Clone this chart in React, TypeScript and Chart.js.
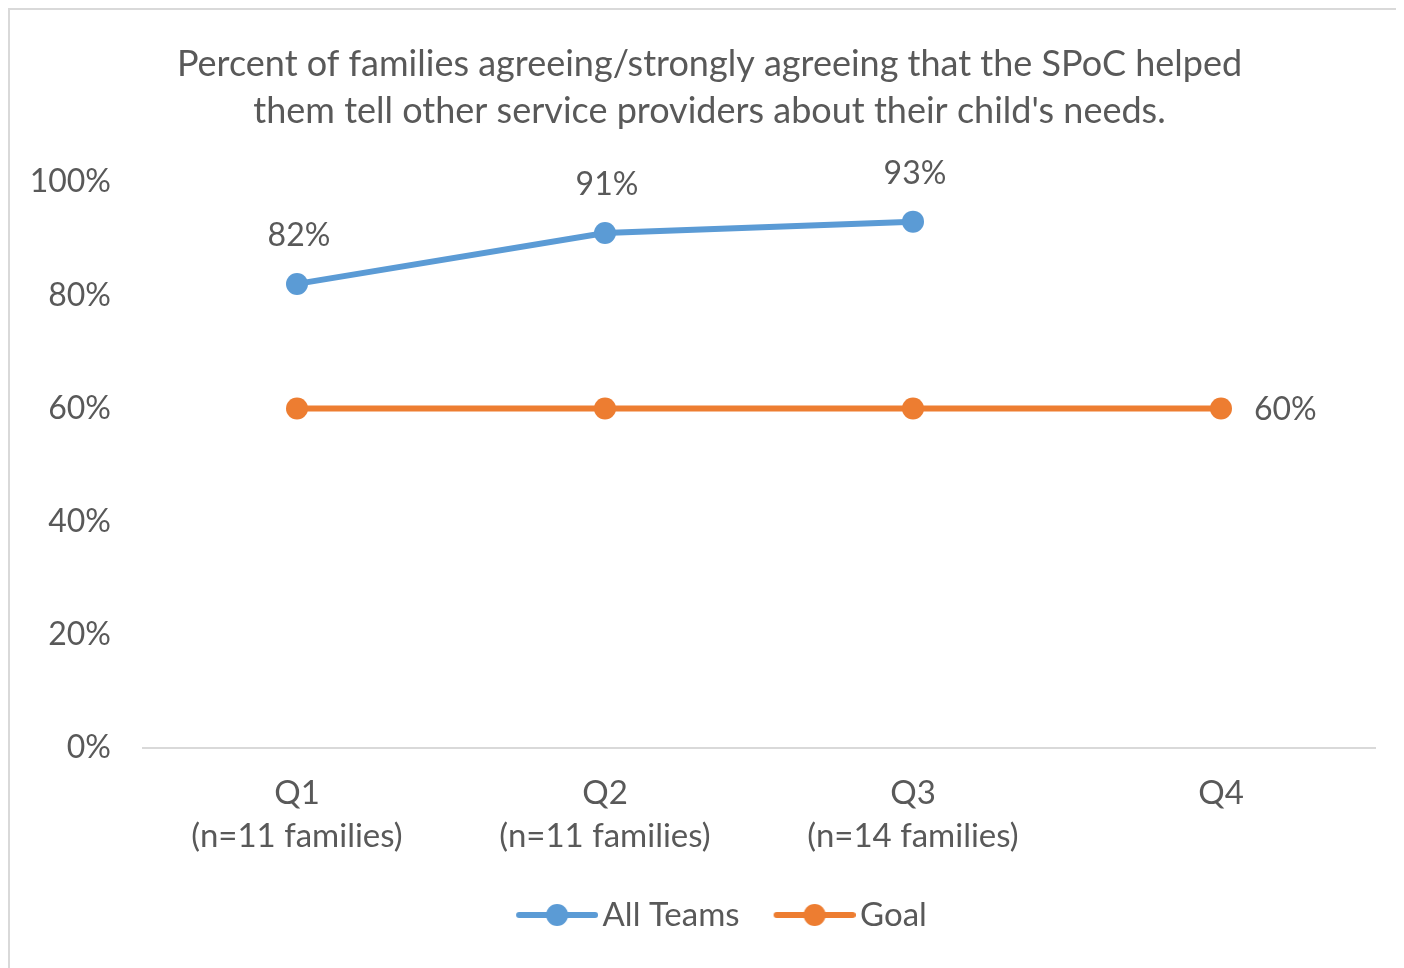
import React, { useEffect, useRef } from "react";
import { Chart, registerables } from "chart.js";

Chart.register(...registerables);

// ---- data ----
const categories: string[][] = [
  ["Q1", "(n=11 families)"],
  ["Q2", "(n=11 families)"],
  ["Q3", "(n=14 families)"],
  ["Q4"],
];
const allTeams: (number | null)[] = [0.82, 0.91, 0.93, null];
const goal: number[] = [0.6, 0.6, 0.6, 0.6];
const yTicks: number[] = [0, 0.2, 0.4, 0.6, 0.8, 1.0];
const seriesNames: string[] = ["All Teams", "Goal"];
const titleLines: string[] = [
  "Percent of families agreeing/strongly agreeing that the SPoC helped",
  "them tell other service providers about their child's needs.",
];

// ---- style ----
const FONT = "Lato";
const TEXT = "#595959";
const BLUE = "#5b9bd5";
const ORANGE = "#ed7d31";
const AXIS = "#d9d9d9";
const FS = 33;

const pct = (v: number) => `${Math.round(v * 100)}%`;

// legend marker: line with a dot, with transparent margin on the left
function legendIcon(color: string): HTMLCanvasElement {
  const c = document.createElement("canvas");
  c.width = 118;
  c.height = 24;
  const ctx = c.getContext("2d")!;
  const a = 36;
  ctx.strokeStyle = color;
  ctx.lineWidth = 6;
  ctx.lineCap = "round";
  ctx.beginPath();
  ctx.moveTo(a + 3, 12);
  ctx.lineTo(a + 79, 12);
  ctx.stroke();
  ctx.fillStyle = color;
  ctx.beginPath();
  ctx.arc(a + 41, 12, 11, 0, Math.PI * 2);
  ctx.fill();
  return c;
}

const labelPlugin = {
  id: "valueLabels",
  afterLayout(chart: any) {
    // let y tick labels extend left of the axis box without clipping
    if (chart.scales.y) chart.scales.y.left = 0;
  },
  afterDatasetsDraw(chart: any) {
    const ctx = chart.ctx;
    ctx.save();
    ctx.font = `32px ${FONT}`;
    ctx.fillStyle = TEXT;
    ctx.textBaseline = "middle";
    const m0 = chart.getDatasetMeta(0);
    m0.data.forEach((pt: any, i: number) => {
      const v = allTeams[i];
      if (v == null) return;
      ctx.textAlign = "center";
      ctx.fillText(pct(v), pt.x + 2, pt.y - 48);
    });
    const m1 = chart.getDatasetMeta(1);
    const li = goal.length - 1;
    const last = m1.data[li];
    ctx.textAlign = "left";
    ctx.fillText(pct(goal[li]), last.x + 33, last.y + 1);
    ctx.restore();
  },
};

export default function App() {
  const ref = useRef<HTMLCanvasElement>(null);

  useEffect(() => {
    if (!ref.current) return;
    const icons = [legendIcon(BLUE), legendIcon(ORANGE)];
    const chart = new Chart(ref.current, {
      type: "line",
      data: {
        labels: categories,
        datasets: [
          {
            label: seriesNames[0],
            data: allTeams,
            borderColor: BLUE,
            backgroundColor: BLUE,
            borderWidth: 6,
            pointRadius: 11,
            pointHoverRadius: 11,
            pointBackgroundColor: BLUE,
            pointBorderWidth: 0,
            tension: 0,
          },
          {
            label: seriesNames[1],
            data: goal,
            borderColor: ORANGE,
            backgroundColor: ORANGE,
            borderWidth: 6,
            pointRadius: 11,
            pointHoverRadius: 11,
            pointBackgroundColor: ORANGE,
            pointBorderWidth: 0,
            tension: 0,
          },
        ],
      },
      options: {
        animation: false,
        responsive: true,
        maintainAspectRatio: false,
        layout: { padding: { left: 34, right: 29, top: 0, bottom: 26.5 } },
        plugins: {
          tooltip: { enabled: false },
          title: {
            display: true,
            text: titleLines,
            color: TEXT,
            font: { family: FONT, size: 36, weight: "normal", lineHeight: 1.306 },
            padding: { top: 30.5, bottom: 47.5 },
          },
          legend: {
            position: "bottom",
            labels: {
              usePointStyle: true,
              pointStyleWidth: 94,
              padding: 10,
              color: TEXT,
              font: { family: FONT, size: FS },
              generateLabels: (ch: any) => {
                const items = Chart.defaults.plugins.legend.labels.generateLabels(ch);
                return items.map((it: any, i: number) => ({ ...it, pointStyle: icons[i] }));
              },
            },
          },
        },
        scales: {
          x: {
            offset: true,
            grid: { display: false, drawTicks: false },
            border: { display: true, color: AXIS, width: 2 },
            ticks: {
              color: TEXT,
              font: { family: FONT, size: FS, lineHeight: 1.303 },
              padding: 23.5,
              maxRotation: 0,
              autoSkip: false,
            },
            afterFit: (s: any) => {
              s.height = 140.5;
            },
          },
          y: {
            min: 0,
            max: 1,
            grid: { display: false, drawTicks: false },
            border: { display: false },
            ticks: {
              color: TEXT,
              font: { family: FONT, size: 32 },
              padding: 32,
              callback: (v: any) => pct(Number(v)),
            },
            afterBuildTicks: (s: any) => {
              s.ticks = yTicks.map((v) => ({ value: v }));
            },
            afterFit: (s: any) => {
              s.width = 99;
            },
          },
        },
      },
      plugins: [labelPlugin],
    });
    return () => chart.destroy();
  }, []);

  return (
    <div
      style={{
        width: 1396,
        height: 960,
        boxSizing: "border-box",
        borderLeft: `2px solid ${AXIS}`,
        borderTop: `2px solid ${AXIS}`,
        background: "#fff",
        position: "relative",
      }}
    >
      <canvas ref={ref} />
    </div>
  );
}
